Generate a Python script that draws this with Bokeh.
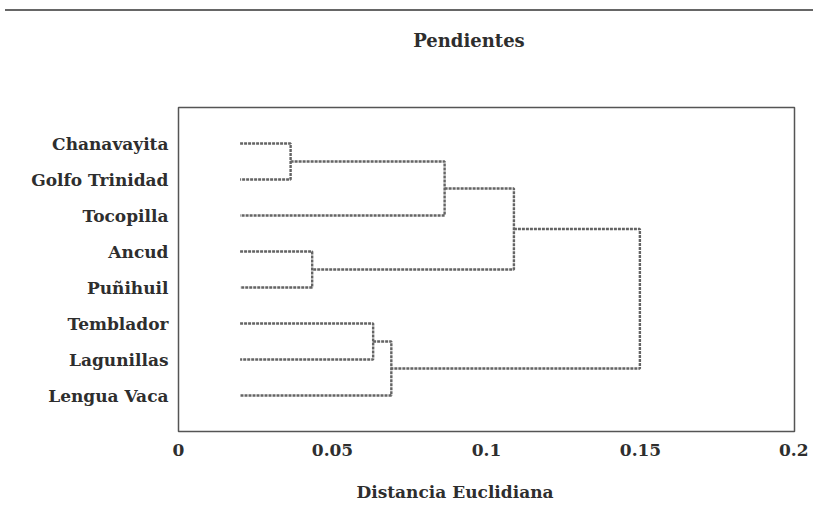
from bokeh.plotting import figure
from bokeh.models import Range1d, FixedTicker, Div
from bokeh.layouts import column
from bokeh.embed import file_html
from bokeh.resources import INLINE

# ---- data ----
leaf_labels = ["Chanavayita", "Golfo Trinidad", "Tocopilla", "Ancud",
               "Puñihuil", "Temblador", "Lagunillas", "Lengua Vaca"]
# merges: node ids 8.. in order; children refer to leaf (0-7) or earlier node ids
merge_left = [0, 8, 3, 9, 5, 12, 11]
merge_right = [1, 2, 4, 10, 6, 7, 13]
merge_height = [0.0364, 0.0864, 0.0434, 0.1089, 0.0632, 0.0691, 0.1498]
leaf_base = 0.02
x_ticks = [0, 0.05, 0.1, 0.15, 0.2]
x_tick_labels = ["0", "0.05", "0.1", "0.15", "0.2"]
title_text = "Pendientes"
x_title = "Distancia Euclidiana"

FONT = "DejaVu Serif"
TXT = "#2e2e2e"
LINE = "#646464"

# ---- build dendrogram segments ----
n = len(leaf_labels)
node_x = {i: leaf_base for i in range(n)}
node_y = {i: i + 1 for i in range(n)}
xs, ys = [], []
for k, (a, b, h) in enumerate(zip(merge_left, merge_right, merge_height)):
    nid = n + k
    xs.append([node_x[a], h, h, node_x[b]])
    ys.append([node_y[a], node_y[a], node_y[b], node_y[b]])
    node_x[nid] = h
    node_y[nid] = (node_y[a] + node_y[b]) / 2

p = figure(width=808, height=393,
           min_border_left=178, min_border_right=14,
           min_border_top=31, min_border_bottom=38,
           x_range=Range1d(0, 0.2), y_range=Range1d(n + 1, 0),
           output_backend="svg", toolbar_location=None)
p.grid.visible = False
p.outline_line_color = "#555555"
p.outline_line_width = 1.5
p.background_fill_color = "white"
p.border_fill_color = "white"

p.multi_line(xs, ys, line_color=LINE, line_width=2.4, line_dash="3 1")

for ax in (p.xaxis[0], p.yaxis[0]):
    ax.axis_line_color = None
    ax.major_tick_line_color = None
    ax.minor_tick_line_color = None
    ax.major_tick_out = 0
    ax.major_tick_in = 0
    ax.minor_tick_out = 0
    ax.minor_tick_in = 0
    ax.major_label_text_font = FONT
    ax.major_label_text_font_style = "bold"
    ax.major_label_text_font_size = "17px"
    ax.major_label_text_color = TXT

p.xaxis.ticker = FixedTicker(ticks=x_ticks)
p.xaxis.major_label_overrides = {t: s for t, s in zip(x_ticks, x_tick_labels)}
p.xaxis.major_label_standoff = 12

p.yaxis.ticker = FixedTicker(ticks=list(range(1, n + 1)))
p.yaxis.major_label_overrides = {i + 1: s for i, s in enumerate(leaf_labels)}
p.yaxis.major_label_standoff = 10

txt_style = (f"font-family:'{FONT}'; font-weight:bold; color:{TXT}; "
             "line-height:20px; text-align:center; width:200px;")

rule = Div(width=808, height=6,
           styles={"background": "linear-gradient(to bottom, #ffffff 0px, #ffffff 4px, #666666 4px, #666666 6px)"})
title_div = Div(width=800, height=50,
                text=f'<div style="{txt_style} font-size:18px; margin-left:364px; padding-top:10px;">{title_text}</div>')
xlabel_div = Div(width=800, height=30,
                 text=f'<div style="{txt_style} font-size:17px; margin-left:350px; padding-top:8px;">{x_title}</div>')
layout = column(rule, title_div, p, xlabel_div, spacing=0)

open("out.html", "w").write(file_html(layout, INLINE))
